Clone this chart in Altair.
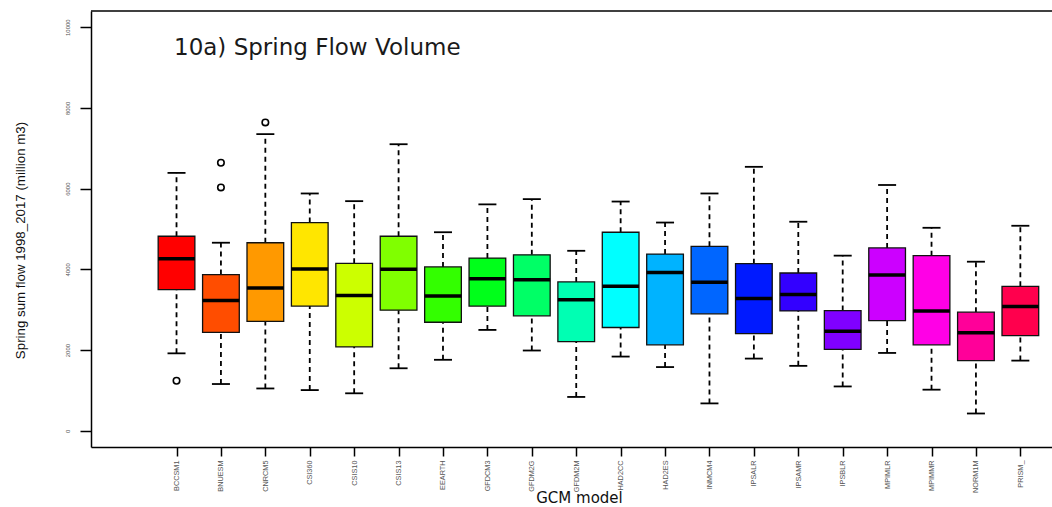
import json

import altair as alt
import pandas as pd

# GCM models and the box-plot statistics of spring flow volume (million m3)
models = ["BCCSM1", "BNUESM", "CNRCM5", "CSI360", "CSIS10", "CSIS13", "EEARTH",
          "GFDCM3", "GFDM2G", "GFDM2M", "HAD2CC", "HAD2ES", "INMCM4", "IPSALR",
          "IPSAMR", "IPSBLR", "MPIMLR", "MPIMMR", "NORM1M", "PRISM_"]
whisker_low = [1920, 1160, 1050, 1010, 930, 1550, 1760, 2500, 1990, 840,
               1840, 1580, 680, 1790, 1610, 1100, 1930, 1020, 430, 1740]
q1 = [3500, 2440, 2710, 3090, 2080, 2990, 2690, 3090, 2850, 2210,
      2560, 2130, 2900, 2410, 2970, 2020, 2730, 2130, 1740, 2360]
median = [4260, 3230, 3540, 4010, 3350, 4000, 3340, 3770, 3740, 3250,
          3580, 3920, 3680, 3280, 3380, 2470, 3860, 2970, 2430, 3080]
q3 = [4820, 3870, 4660, 5160, 4150, 4820, 4060, 4280, 4360, 3690,
      4920, 4380, 4570, 4140, 3910, 2980, 4530, 4340, 2940, 3580]
whisker_high = [6390, 4660, 7350, 5880, 5690, 7100, 4920, 5610, 5740, 4460,
                5680, 5160, 5880, 6540, 5180, 4340, 6090, 5030, 4190, 5080]

outlier_model = ["BCCSM1", "BNUESM", "BNUESM", "CNRCM5"]
outlier_value = [1240, 6640, 6030, 7640]

# R rainbow(20) palette
box_colors = ["#FF0000", "#FF4D00", "#FF9900", "#FFE600", "#CCFF00", "#80FF00",
              "#33FF00", "#00FF1A", "#00FF66", "#00FFB3", "#00FFFF", "#00B3FF",
              "#0066FF", "#001AFF", "#3300FF", "#8000FF", "#CC00FF", "#FF00E6",
              "#FF0099", "#FF004D"]

chart_title = "10a) Spring Flow Volume"
y_title = "Spring sum flow 1998_2017 (million m3)"
x_title = "GCM model"

stats = pd.DataFrame({
    "model": models,
    "pos": list(range(1, len(models) + 1)),
    "lo": whisker_low, "q1": q1, "med": median, "q3": q3, "hi": whisker_high,
})
outliers = pd.DataFrame({
    "model": outlier_model,
    "pos": [models.index(m) + 1 for m in outlier_model],
    "value": outlier_value,
})

W, H = 961, 436
BOX_W = 36.7
CAP_W = 18

x_enc = alt.X(
    "pos:Q",
    scale=alt.Scale(domain=[-0.813, 20.6], nice=False, zero=False),
    axis=alt.Axis(
        values=list(range(1, len(models) + 1)),
        labelExpr=json.dumps(models) + "[datum.value - 1]",
        labelAngle=270, labelAlign="right", labelBaseline="middle",
        labelFont="Liberation Sans", labelFontSize=7.3, labelColor="#555555",
        labelPadding=4, labelFlush=False, labelOverlap=False,
        tickSize=9, tickWidth=1.5, tickColor="black",
        domainColor="black", domainWidth=1.5, grid=False,
        title=x_title, titleFont="DejaVu Sans", titleFontSize=15,
        titleFontWeight="normal", titleColor="#111111",
        titleX=488, titleY=55, titleBaseline="alphabetic", titleAlign="center",
    ),
)
y_scale = alt.Scale(domain=[-400, 10400], nice=False, zero=False)
y_axis = alt.Axis(
    values=[0, 2000, 4000, 6000, 8000, 10000], format="d",
    labelAngle=270, labelAlign="center", labelBaseline="bottom",
    labelFont="Liberation Sans", labelFontSize=6, labelColor="#555555",
    labelPadding=10, labelFlush=False,
    tickSize=11, tickWidth=1.5, tickColor="black",
    domainColor="black", domainWidth=1.5, grid=False,
    title=y_title, titleFont="Liberation Sans", titleFontSize=13.3,
    titleFontWeight="normal", titleColor="#111111",
    titleAngle=270, titleX=-71, titleY=229,
    titleAlign="center", titleBaseline="middle",
)

base = alt.Chart(stats)

upper_whisker = base.mark_rule(color="black", strokeWidth=1.8, strokeDash=[5, 4]).encode(
    x=x_enc, y=alt.Y("q3:Q", scale=y_scale, axis=y_axis), y2="hi:Q")
lower_whisker = base.mark_rule(color="black", strokeWidth=1.8, strokeDash=[5, 4]).encode(
    x=x_enc, y=alt.Y("lo:Q", scale=y_scale, axis=y_axis), y2="q1:Q")
cap_hi = base.mark_tick(orient="horizontal", size=CAP_W, thickness=1.8,
                        color="black", opacity=1).encode(
    x=x_enc, y=alt.Y("hi:Q", scale=y_scale, axis=y_axis))
cap_lo = base.mark_tick(orient="horizontal", size=CAP_W, thickness=1.8,
                        color="black", opacity=1).encode(
    x=x_enc, y=alt.Y("lo:Q", scale=y_scale, axis=y_axis))
boxes = base.mark_bar(size=BOX_W, stroke="#111111", strokeWidth=1.3, opacity=1).encode(
    x=x_enc,
    y=alt.Y("q1:Q", scale=y_scale, axis=y_axis), y2="q3:Q",
    color=alt.Color("model:N", scale=alt.Scale(domain=models, range=box_colors), legend=None),
)
medians = base.mark_tick(orient="horizontal", size=BOX_W, thickness=3.5,
                         color="black", opacity=1).encode(
    x=x_enc, y=alt.Y("med:Q", scale=y_scale, axis=y_axis))
points = alt.Chart(outliers).mark_point(
    shape="circle", filled=False, color="black", size=42, strokeWidth=1.6, opacity=1
).encode(x=x_enc, y=alt.Y("value:Q", scale=y_scale, axis=y_axis))

top_frame = alt.Chart(pd.DataFrame({"k": [0]})).mark_rule(color="black", strokeWidth=1.5).encode(
    x=alt.value(0), x2=alt.value(W), y=alt.value(0))
title_text = alt.Chart(pd.DataFrame({"t": [chart_title]})).mark_text(
    align="left", baseline="alphabetic", font="DejaVu Sans", fontSize=23, color="#1a1a1a"
).encode(x=alt.value(83), y=alt.value(44), text="t:N")

chart = alt.layer(
    upper_whisker, lower_whisker, cap_hi, cap_lo, boxes, medians, points, top_frame, title_text
).properties(
    width=W, height=H,
    autosize=alt.AutoSizeParams(type="none"),
    padding={"left": 91, "top": 11, "right": 0, "bottom": 60},
    background="white",
).configure_view(stroke=None)

chart.save("out.html", embed_options={"renderer": "svg", "actions": False})
